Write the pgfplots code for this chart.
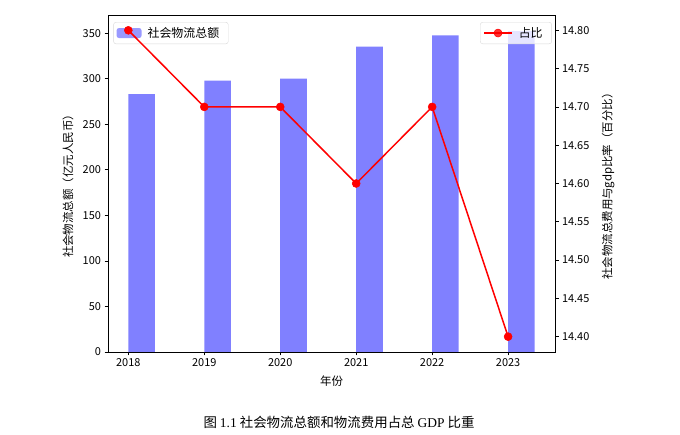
\documentclass[border=0pt]{standalone}
\usepackage{fontspec}
\setmainfont{Noto Sans CJK SC}
\newfontfamily\seriffont{Liberation Serif}
\newfontfamily\songfont{Noto Sans CJK SC}
\usepackage{pgfplots}
\pgfplotsset{compat=1.18}

\definecolor{barblue}{HTML}{8080FF}

\pgfplotsset{
  common/.style={
    at={(108bp,83bp)}, anchor=south west,
    scale only axis, width=447bp, height=337bp,
    xmin=2017.7325, xmax=2023.6175,
    tick align=outside, major tick length=3.5bp,
    every tick/.style={black, line width=0.8bp},
    axis line style={line width=0.8bp},
    ticklabel style={font=\fontsize{11}{13}\selectfont},
    label style={font=\fontsize{11.5}{13}\selectfont},
    /pgf/number format/assume math mode=true,
    legend style={draw=black!15, rounded corners=2.5bp, fill=white, fill opacity=0.8,
      text opacity=1, font=\fontsize{12}{14}\selectfont,
      inner xsep=3bp, inner ysep=2.5bp,
      nodes={inner xsep=6bp, inner ysep=2.5bp}},
  }
}

\begin{document}
\begin{tikzpicture}[x=1bp,y=1bp]
\useasboundingbox (0,0) rectangle (680,435);

% bars: total logistics value
\begin{axis}[
  common,
  ymin=0, ymax=370,
  tick pos=left,
  xtick={2018,2019,2020,2021,2022,2023},
  xticklabels={2018,2019,2020,2021,2022,2023},
  ytick={0,50,100,150,200,250,300,350},
  xlabel={年份},
  ylabel={社会物流总额（亿元人民币）},
  xlabel style={at={(axis description cs:0.5,-0.086)}, anchor=center},
  ylabel style={at={(axis description cs:-0.0895,0.5)}, anchor=center},
  legend style={at={(0.012,0.979)}, anchor=north west},
  legend image code/.code={\fill[#1] (0bp,-5bp) rectangle (25bp,5bp);},
]
\addplot[ybar, bar width=0.35, bar shift=0.175, fill=barblue, draw=none]
  coordinates {(2018,283.1) (2019,298.0) (2020,300.1) (2021,335.2) (2022,347.6) (2023,352.4)};
\addlegendentry{社会物流总额}
\end{axis}

% line: share of GDP
\begin{axis}[
  common,
  ymin=14.38, ymax=14.82,
  axis x line=none,
  axis y line*=right,
  ytick={14.40,14.45,14.50,14.55,14.60,14.65,14.70,14.75,14.80},
  yticklabel style={/pgf/number format/fixed, /pgf/number format/fixed zerofill,
    /pgf/number format/precision=2},
  ylabel={社会物流总费用与gdp比率（百分比）},
  ylabel style={at={(axis description cs:1.1186,0.5)}, anchor=center},
  legend style={at={(0.993,0.979)}, anchor=north east},
  legend image code/.code={
    \draw[#1, mark repeat=2, mark phase=2] plot coordinates {(0bp,0bp) (14bp,0bp) (28bp,0bp)};},
]
\addplot[red, line width=1.5bp, mark=*, mark size=4bp, mark options={fill=red, line width=0.5bp}]
  coordinates {(2018,14.8) (2019,14.7) (2020,14.7) (2021,14.6) (2022,14.7) (2023,14.4)};
\addlegendentry{占比}
\end{axis}

\node at (339,13) {\fontsize{13.5}{15}\selectfont\songfont 图 {\seriffont 1.1} 社会物流总额和物流费用占总 {\seriffont GDP} 比重};
\end{tikzpicture}
\end{document}
